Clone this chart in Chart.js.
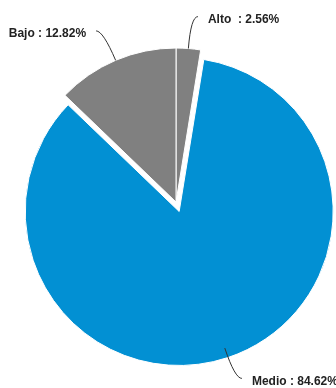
<!DOCTYPE html>
<html>
<head>
<meta charset="utf-8">
<script src="https://cdn.jsdelivr.net/npm/chart.js@4"></script>
<style>
  html, body { margin: 0; padding: 0; background: #fff; }
  #wrap { width: 336px; height: 388px; }
</style>
</head>
<body>
<div id="wrap"><canvas id="chart_pie"></canvas></div>
<script>
var categories = ['Alto', 'Medio', 'Bajo'];
var values = [2.56, 84.62, 12.82];
var sliceLabels = ['Alto  : 2.56%', 'Medio : 84.62%', 'Bajo : 12.82%'];
var sliceColors = ['#808080', '#0290d3', '#808080'];
var sliceShift = [0, 10, 0];

// pull slices out from the centre (the built-in offset also grows the arc)
var explodePlugin = {
    id: 'explode',
    beforeDatasetsDraw: (chart) => {
        const meta = chart.getDatasetMeta(0);
        const cx = (chart.chartArea.left + chart.chartArea.right) / 2;
        const cy = (chart.chartArea.top + chart.chartArea.bottom) / 2;
        meta.data.forEach((arc, i) => {
            const mid = (arc.startAngle + arc.endAngle) / 2;
            arc.x = cx + Math.cos(mid) * sliceShift[i];
            arc.y = cy + Math.sin(mid) * sliceShift[i];
        });
    }
};

var calloutPlugin = {
    id: 'callouts',
    afterDatasetsDraw: (chart) => {
        const ctx = chart.ctx;
        const meta = chart.getDatasetMeta(0);
        const cx0 = (chart.chartArea.left + chart.chartArea.right) / 2;
        const cy0 = (chart.chartArea.top + chart.chartArea.bottom) / 2;
        ctx.save();
        meta.data.forEach((arc, i) => {
            const mid = (arc.startAngle + arc.endAngle) / 2;
            const dx = Math.cos(mid), dy = Math.sin(mid);
            const r = arc.outerRadius;
            const x0 = cx0 + dx * r, y0 = cy0 + dy * r;
            const cx = x0 + dx * 32, cy = y0 + dy * 32;
            const side = dx >= 0 ? 1 : -1;
            const ex = cx + side * 7, ey = cy;
            ctx.beginPath();
            ctx.moveTo(x0, y0);
            ctx.quadraticCurveTo(cx, cy, ex, ey);
            ctx.strokeStyle = '#333';
            ctx.lineWidth = 1;
            ctx.stroke();
            ctx.fillStyle = '#222';
            ctx.font = 'bold 12px "Liberation Sans", Arial, sans-serif';
            ctx.textBaseline = 'middle';
            ctx.textAlign = side > 0 ? 'left' : 'right';
            ctx.fillText(sliceLabels[i], ex + side * 10, ey + 3);
        });
        ctx.restore();
    }
};

var chart_pie = new Chart(document.getElementById('chart_pie'), {
    type: 'pie',
    data: {
        labels: categories,
        datasets: [{
            data: values,
            backgroundColor: sliceColors,
            borderColor: '#ffffff',
            borderWidth: 1,
            clip: false
        }]
    },
    options: {
        animation: false,
        responsive: true,
        maintainAspectRatio: false,
        radius: 154,
        layout: { padding: { left: 16, right: 0, top: 16, bottom: 0 } },
        plugins: {
            legend: { display: false },
            tooltip: { enabled: false }
        }
    },
    plugins: [explodePlugin, calloutPlugin]
});
</script>
</body>
</html>
